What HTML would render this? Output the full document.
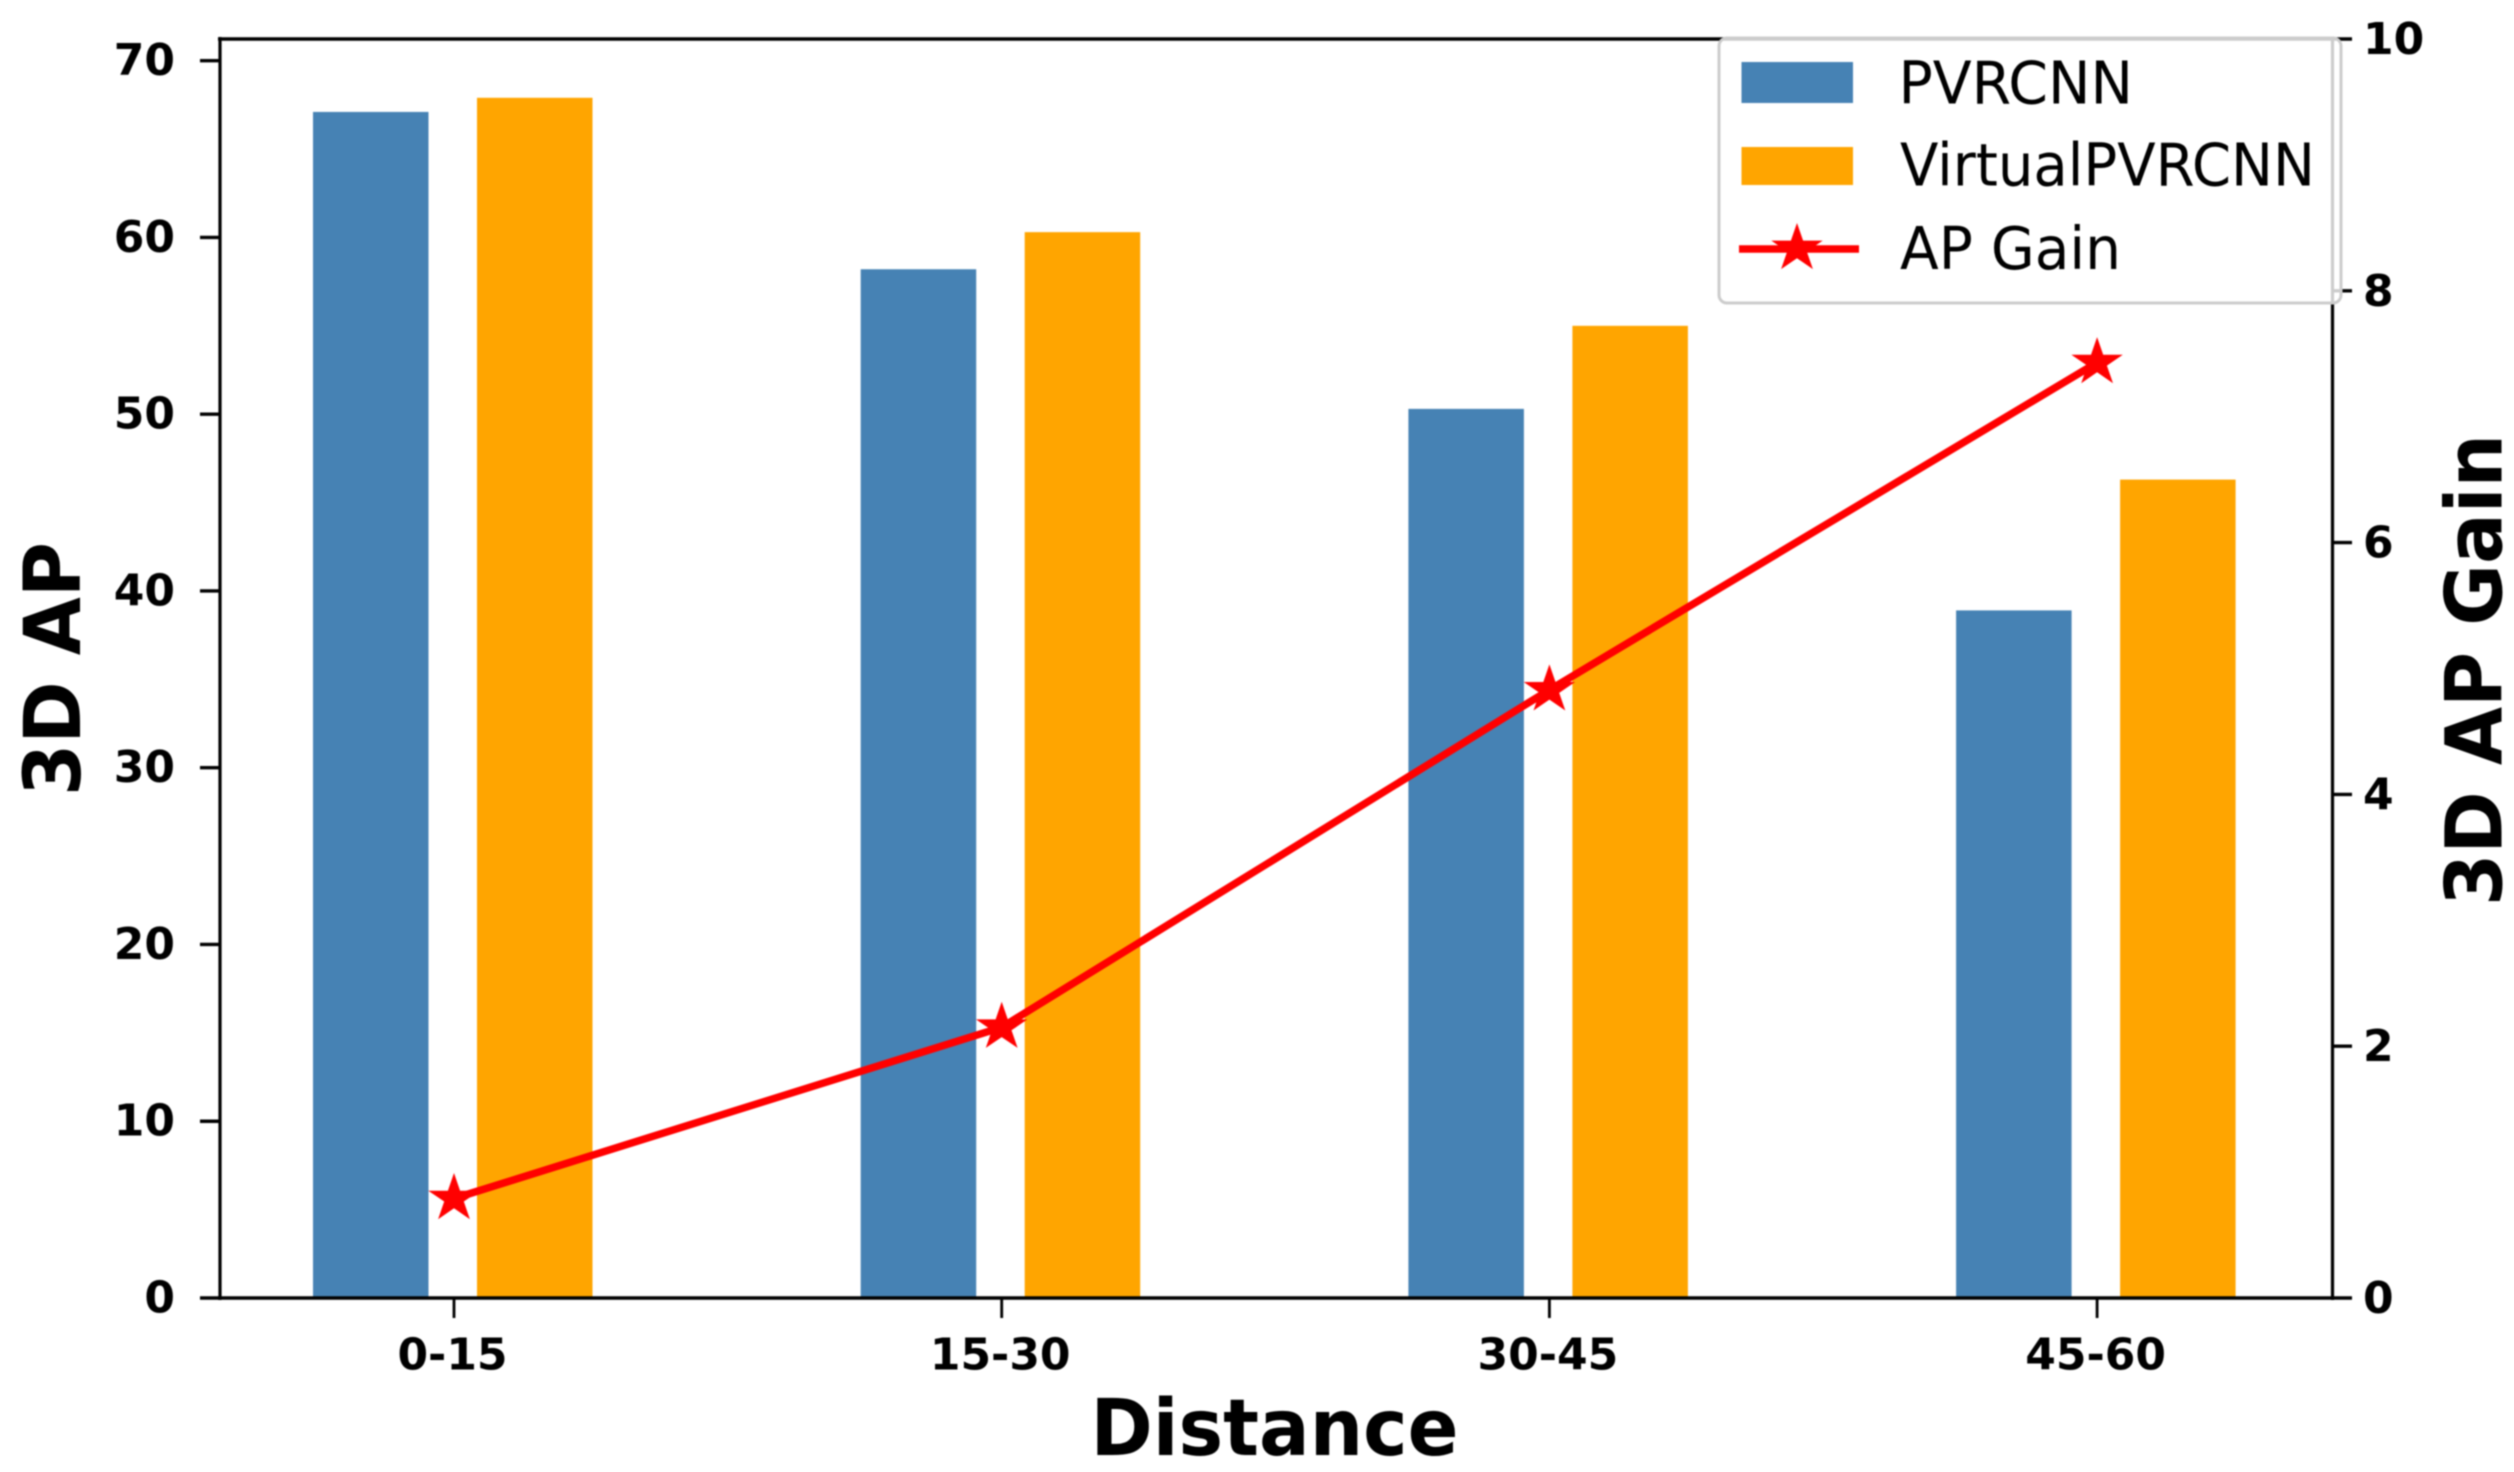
<!DOCTYPE html>
<html lang="en">
<head>
<meta charset="utf-8">
<title>3D AP by Distance</title>
<style>
html,body{margin:0;padding:0;background:#fff;width:2514px;height:1472px;overflow:hidden}
svg{display:block;filter:blur(0.8px)}
text{fill:#000;font-family:"DejaVu Sans","Liberation Sans",sans-serif}
.tick{font-size:44px;font-weight:700}
.title{font-size:78.6px;font-weight:700}
.legend-text{font-size:59px;font-weight:400}
</style>
</head>
<body>
<svg id="chart" xmlns="http://www.w3.org/2000/svg" width="2514" height="1472" viewBox="0 0 2514 1472">
  <rect x="0" y="0" width="2514" height="1472" fill="#fff"/>
  <g id="bars"></g>
  <g id="axes">
    <line x1="220" y1="37" x2="220" y2="1300" stroke="#000" stroke-width="3.2"/>
    <line x1="2332.5" y1="37" x2="2332.5" y2="1300" stroke="#000" stroke-width="3.2"/>
    <line x1="218" y1="39" x2="2334" y2="39" stroke="#000" stroke-width="3.4"/>
    <line x1="218" y1="1298" x2="2334" y2="1298" stroke="#000" stroke-width="3.4"/>
  </g>
  <g id="ticks"></g>
  <g id="gain"></g>
  <text class="title" x="1274.5" y="1455" text-anchor="middle" textLength="368" lengthAdjust="spacingAndGlyphs">Distance</text>
  <text class="title" transform="translate(80 669) rotate(-90)" text-anchor="middle" textLength="254" lengthAdjust="spacingAndGlyphs">3D AP</text>
  <text class="title" transform="translate(2501.5 670) rotate(-90)" text-anchor="middle" textLength="472" lengthAdjust="spacingAndGlyphs">3D AP Gain</text>
  <g id="legend">
    <rect x="1719" y="38" width="622" height="265" rx="8" ry="8" fill="#fff" fill-opacity="0.8" stroke="#cccccc" stroke-width="3"/>
    <rect x="1741.5" y="62" width="111.5" height="41" fill="#4682b4"/>
    <text class="legend-text" x="1898.5" y="103.5" textLength="234.5" lengthAdjust="spacingAndGlyphs">PVRCNN</text>
    <rect x="1741.5" y="147" width="111.5" height="38" fill="#ffa500"/>
    <text class="legend-text" x="1900" y="185.5" textLength="415" lengthAdjust="spacingAndGlyphs">VirtualPVRCNN</text>
    <line x1="1739" y1="249" x2="1859" y2="249" stroke="#f00" stroke-width="7.5"/>
    <polygon id="legendStar" fill="#f00"/>
    <text class="legend-text" x="1900" y="269" textLength="221" lengthAdjust="spacingAndGlyphs">AP Gain</text>
  </g>
</svg>
<script>
const categories = ["0-15", "15-30", "30-45", "45-60"];
const pvrcnnValues = [67.1, 58.2, 50.3, 38.9];
const virtualValues = [67.9, 60.3, 55.0, 46.3];
const gainValues = [0.79, 2.15, 4.83, 7.43];
const leftTicks = [0, 10, 20, 30, 40, 50, 60, 70];
const rightTicks = [0, 2, 4, 6, 8, 10];

const NS = "http://www.w3.org/2000/svg";
function xScale(i) { return 454 + 547.7 * i; }
function yLeft(v) { return 1298 - 17.676 * v; }
function yRight(v) { return 1298 - 125.9 * v; }
function make(tag, parentId, attrs, text) {
  const el = document.createElementNS(NS, tag);
  for (const k in attrs) el.setAttribute(k, attrs[k]);
  if (text !== undefined) el.textContent = text;
  document.getElementById(parentId).appendChild(el);
  return el;
}
function starPoints(cx, cy, rx, ry) {
  const pts = [];
  for (let k = 0; k < 10; k++) {
    const r = k % 2 === 0 ? 1 : 0.382;
    const a = -Math.PI / 2 + k * Math.PI / 5;
    pts.push((cx + rx * r * Math.cos(a)).toFixed(1) + "," + (cy + ry * r * Math.sin(a)).toFixed(1));
  }
  return pts.join(" ");
}

const BAR_W = 115;
categories.forEach(function (cat, i) {
  const cx = xScale(i);
  const blue = make("rect", "bars", { x: cx - 141, y: yLeft(pvrcnnValues[i]), width: BAR_W + 0.5, height: 1298 - yLeft(pvrcnnValues[i]), fill: "#4682b4" });
  
  
  const orange = make("rect", "bars", { x: cx + 23, y: yLeft(virtualValues[i]), width: BAR_W + 0.5, height: 1298 - yLeft(virtualValues[i]), fill: "#ffa500" });
  
  

  const tick = make("line", "ticks", { x1: cx, x2: cx, y1: 1298, y2: 1318, stroke: "#000", "stroke-width": 2.8 });
  
  
  const label = make("text", "ticks", { x: cx - 1.5, y: 1369.5, "text-anchor": "middle", "class": "tick" }, cat);
  
  
});

leftTicks.forEach(function (v) {
  const y = yLeft(v);
  const tick = make("line", "ticks", { x1: 200, x2: 220, y1: y, y2: y, stroke: "#000", "stroke-width": 3.4 });
  
  
  const label = make("text", "ticks", { x: 175, y: y + 14.5, "text-anchor": "end", "class": "tick" }, String(v));
  
  
});

rightTicks.forEach(function (v) {
  const y = yRight(v);
  const tick = make("line", "ticks", { x1: 2332, x2: 2352, y1: y, y2: y, stroke: "#000", "stroke-width": 3.4 });
  
  
  const label = make("text", "ticks", { x: 2363, y: y + 15, "text-anchor": "start", "class": "tick" }, String(v));
  
  
});

const gainLine = make("polyline", "gain", {
  points: gainValues.map(function (v, i) { return xScale(i) + "," + yRight(v).toFixed(1); }).join(" "),
  fill: "none", stroke: "#f00", "stroke-width": 7.5, "stroke-linejoin": "round"
});



gainValues.forEach(function (v, i) {
  const star = make("polygon", "gain", { points: starPoints(xScale(i), yRight(v), 27, 25.5), fill: "#f00" });
  
  
});

document.getElementById("legendStar").setAttribute("points", starPoints(1797, 248.5, 27, 25.5));
</script>
</body>
</html>
